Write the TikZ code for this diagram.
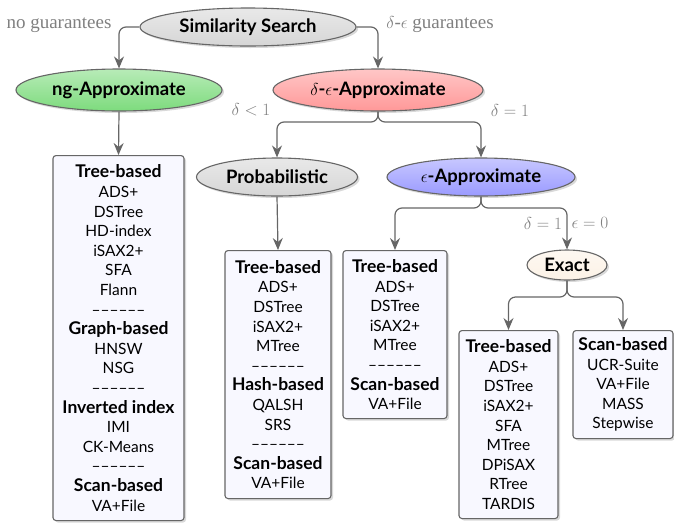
\documentclass[tikz,border=0pt]{standalone}
\usepackage{amsmath}
\usepackage{fontspec}
\setmainfont{Liberation Serif}
\setsansfont{Lato}
\usetikzlibrary{shapes.geometric,shadows,arrows.meta}

\definecolor{linegray}{HTML}{666666}
\definecolor{condgray}{HTML}{808080}
\definecolor{nodegray}{HTML}{D6D6D6}
\definecolor{nggreen}{HTML}{7DDB7D}
\definecolor{dered}{HTML}{FF9898}
\definecolor{epsblue}{HTML}{9A9AFF}
\definecolor{exactfill}{HTML}{FCF2E6}
\definecolor{boxfill}{HTML}{F8F8FF}

\newcommand{\hd}[1]{{\fontsize{17.5}{19.6}\selectfont\textbf{#1}}}
\newcommand{\sepline}{\textendash\textendash\textendash\textendash\textendash\textendash}

\tikzset{
        cls/.style={ellipse, draw=linegray, line width=1.1pt, inner sep=0pt,
                font=\sffamily\bfseries\fontsize{18.5}{21}\selectfont,
                top color=#1!55!white, bottom color=#1,
                drop shadow={opacity=0.3, shadow xshift=2pt, shadow yshift=-2pt}},
        famlist/.style={rectangle, rounded corners=3pt, draw=linegray, line width=1.1pt,
                fill=boxfill, align=center, anchor=north, inner sep=0pt,
                font=\sffamily\fontsize{15.5}{19.6}\selectfont,
                drop shadow={opacity=0.3, shadow xshift=2pt, shadow yshift=-2pt}},
        branch/.style={draw=linegray, line width=1.2pt, rounded corners=7pt,
                -{Stealth[length=12pt,width=10pt,inset=4pt]}},
        cond/.style={text=condgray, inner sep=0pt, font=\fontsize{19}{22}\selectfont}
}

\begin{document}
\begin{tikzpicture}[x=1pt,y=-1pt]
        \useasboundingbox (0,0) rectangle (674,523);

        \node[cls=nodegray, minimum width=216pt, minimum height=38pt] (ss) at (248,27) {Similarity Search};
        \node[cls=nggreen, minimum width=206pt, minimum height=42pt] (ng) at (119,90) {ng-Approximate};
        \node[cls=dered, minimum width=210pt, minimum height=42pt] (de) at (378,90) {$\delta$-$\epsilon$-Approximate};
        \node[cls=nodegray, minimum width=161pt, minimum height=38pt] (prob) at (277,177) {Probabilistic};
        \node[cls=epsblue, minimum width=188pt, minimum height=38pt] (eps) at (481,177) {$\epsilon$-Approximate};
        \node[cls=exactfill, minimum width=80pt, minimum height=30pt] (exact) at (567,265) {Exact};

        \node[famlist, minimum width=131pt, minimum height=365pt] (nglist) at (118.5,155)
                {\hd{Tree-based}\\ADS+\\DSTree\\HD-index\\iSAX2+\\SFA\\Flann\\\sepline\\
                 \hd{Graph-based}\\HNSW\\NSG\\\sepline\\
                 \hd{Inverted index}\\IMI\\CK-Means\\\sepline\\
                 \hd{Scan-based}\\VA+File};
        \node[famlist, minimum width=106pt, minimum height=248pt] (problist) at (278,250)
                {\hd{Tree-based}\\ADS+\\DSTree\\iSAX2+\\MTree\\\sepline\\
                 \hd{Hash-based}\\QALSH\\SRS\\\sepline\\
                 \hd{Scan-based}\\VA+File};
        \node[famlist, minimum width=104pt, minimum height=168pt] (epslist) at (395,250)
                {\hd{Tree-based}\\ADS+\\DSTree\\iSAX2+\\MTree\\\sepline\\
                 \hd{Scan-based}\\VA+File};
        \node[famlist, minimum width=99pt, minimum height=188pt] (extree) at (508.5,330)
                {\hd{Tree-based}\\ADS+\\DSTree\\iSAX2+\\SFA\\MTree\\DPiSAX\\RTree\\TARDIS};
        \node[famlist, minimum width=100pt, minimum height=108pt] (exscan) at (623,330)
                {\hd{Scan-based}\\UCR-Suite\\VA+File\\MASS\\Stepwise};

        \coordinate (desplit) at (378,122);
        \coordinate (epssplit) at (481,208);
        \coordinate (exsplit) at (567,297);

        \draw[branch] (ss.west) -| (ng.north);
        \draw[branch] (ss.east) -| (de.north);
        \draw[branch] (ng.south) -- (nglist.north);
        \draw[branch] (de.south) -- (desplit) -| (prob.north);
        \draw[branch] (de.south) -- (desplit) -| (eps.north);
        \draw[branch] (prob.south) -- (problist.north);
        \draw[branch] (eps.south) -- (epssplit) -| (epslist.north);
        \draw[branch] (eps.south) -- (epssplit) -| (exact.north);
        \draw[branch] (exact.south) -- (exsplit) -| (extree.north);
        \draw[branch] (exact.south) -- (exsplit) -| (exscan.north);

        \node[cond] (noguar) at (59,25) {no guarantees};
        \node[cond] (deguar) at (440,25) {$\delta$-$\epsilon$ guarantees};
        \node[cond] (dless) at (251,110) {$\delta < 1$};
        \node[cond] (deq) at (510,110) {$\delta = 1$};
        \node[cond] (exdeq) at (543,223) {$\delta = 1$};
        \node[cond] (exeps) at (590,223) {$\epsilon = 0$};
\end{tikzpicture}
\end{document}
